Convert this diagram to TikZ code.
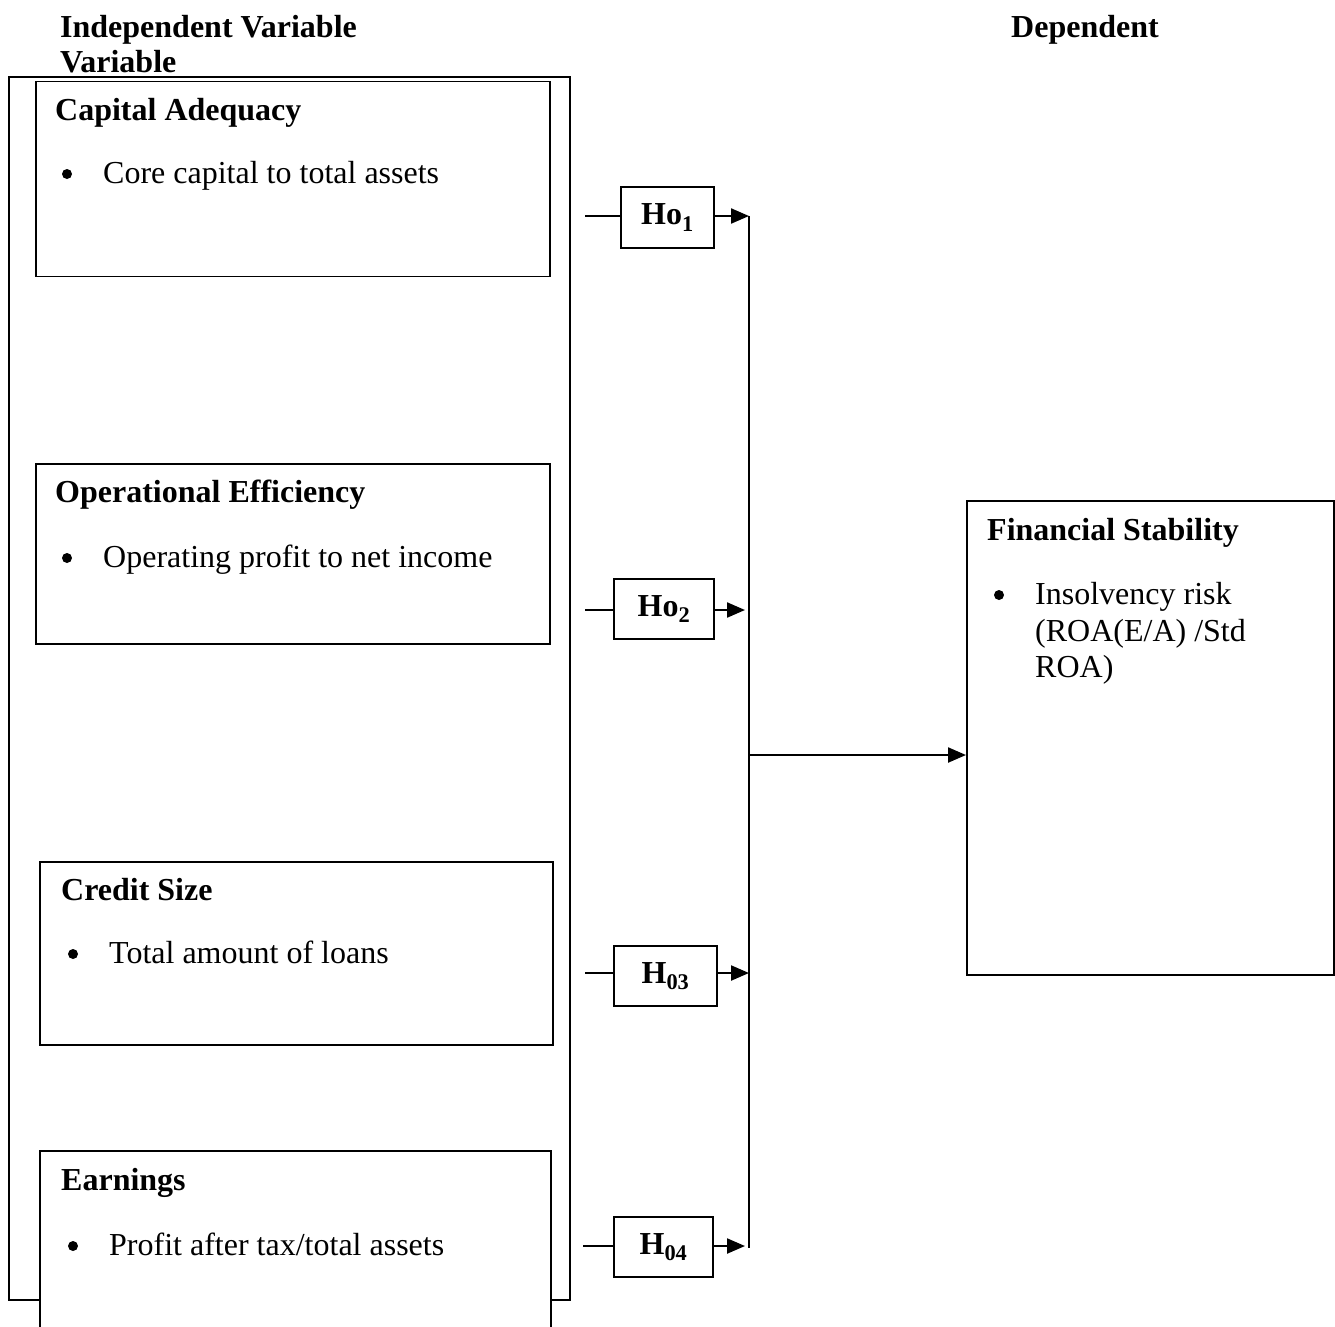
\documentclass[tikz,border=0pt]{standalone}
\usepackage{fontspec}
\setmainfont{Liberation Serif}
\usetikzlibrary{arrows.meta}
\tikzset{
  box/.style={draw, line width=1.6pt, anchor=north west, inner sep=0pt},
  hbox/.style={draw, line width=1.8pt, inner sep=0pt, font=\fontsize{32}{36}\selectfont\bfseries},
  txt/.style={anchor=base west, inner sep=0pt, font=\fontsize{32}{37}\selectfont},
  ttl/.style={anchor=base west, inner sep=0pt, font=\fontsize{32}{37}\selectfont\bfseries},
  bul/.style={anchor=center, inner sep=0pt, circle, fill=black, minimum size=10pt},
  conn/.style={line width=2.2pt},
  arr/.style={line width=2.2pt, -{Triangle[length=18pt,width=15pt]}},
}
\begin{document}
\begin{tikzpicture}[x=1pt,y=-1pt]
\clip (0,0) rectangle (1335,1326);
\fill[white] (0,0) rectangle (1335,1326);
% headers
\node[ttl] (h1) at (60,37) {Independent Variable};
\node[ttl] (h2) at (60,72) {Variable};
\node[ttl] (h3) at (1011,37) {Dependent};
% outer frame
\node[box, minimum width=561pt, minimum height=1223pt] (outer) at (8,76) {};
% Capital adequacy
\node[box, fill=white, minimum width=514pt, minimum height=195pt] (ca) at (35,80.5) {};
\node[ttl] (cat) at (55,120) {Capital Adequacy};
\node[bul] (cab) at (67,174) {};
\node[txt] (cax) at (103,183) {Core capital to total assets};
% Operational efficiency
\node[box, fill=white, minimum width=514pt, minimum height=180pt] (oe) at (35,463) {};
\node[ttl] (oet) at (55,502) {Operational Efficiency};
\node[bul] (oeb) at (67,558) {};
\node[txt] (oex) at (103,567) {Operating profit to net income};
% Credit size
\node[box, fill=white, minimum width=513pt, minimum height=183pt] (cs) at (39,861) {};
\node[ttl] (cst) at (61,900) {Credit Size};
\node[bul] (csb) at (73,954) {};
\node[txt] (csx) at (109,963) {Total amount of loans};
% Earnings
\node[box, fill=white, minimum width=511pt, minimum height=220pt] (ea) at (39,1150) {};
\node[ttl] (eat) at (61,1190) {Earnings};
\node[bul] (eab) at (73,1246) {};
\node[txt] (eax) at (109,1255) {Profit after tax/total assets};
% Financial stability
\node[box, minimum width=367pt, minimum height=474pt] (fs) at (966,500) {};
\node[ttl] (fst) at (987,540) {Financial Stability};
\node[bul] (fsb) at (999,595) {};
\node[txt] (fsx1) at (1035,604) {Insolvency risk};
\node[txt] (fsx2) at (1035,641) {(ROA(E/A) /Std};
\node[txt] (fsx3) at (1035,677) {ROA)};
% hypothesis boxes
\node[hbox, minimum width=93pt, minimum height=61pt] (ho1) at (667.5,217.5) {Ho\textsubscript{1}};
\node[hbox, minimum width=100pt, minimum height=60pt] (ho2) at (664,609) {Ho\textsubscript{2}};
\node[hbox, minimum width=103pt, minimum height=60pt] (ho3) at (665.5,976) {H\textsubscript{03}};
\node[hbox, minimum width=99pt, minimum height=60pt] (ho4) at (663.5,1247) {H\textsubscript{04}};
% coordinates
\coordinate (i1) at (585,216);
\coordinate (i2) at (585,610);
\coordinate (i3) at (585,973);
\coordinate (i4) at (583,1246);
\coordinate (vtop) at (749,216);
\coordinate (v2) at (745,610);
\coordinate (v3) at (749,973);
\coordinate (v4) at (745,1246);
\coordinate (vbot) at (749,1248);
\coordinate (vmid) at (749,755);
% connectors
\draw[conn] (i1) -- (i1 -| ho1.west);
\draw[conn] (i2) -- (i2 -| ho2.west);
\draw[conn] (i3) -- (i3 -| ho3.west);
\draw[conn] (i4) -- (i4 -| ho4.west);
\draw[arr] (vtop -| ho1.east) -- (vtop);
\draw[arr] (v2 -| ho2.east) -- (v2);
\draw[arr] (v3 -| ho3.east) -- (v3);
\draw[arr] (v4 -| ho4.east) -- (v4);
\draw[conn] (vtop) -- (vbot);
\draw[arr] (vmid) -- (vmid -| fs.west);
\end{tikzpicture}
\end{document}
